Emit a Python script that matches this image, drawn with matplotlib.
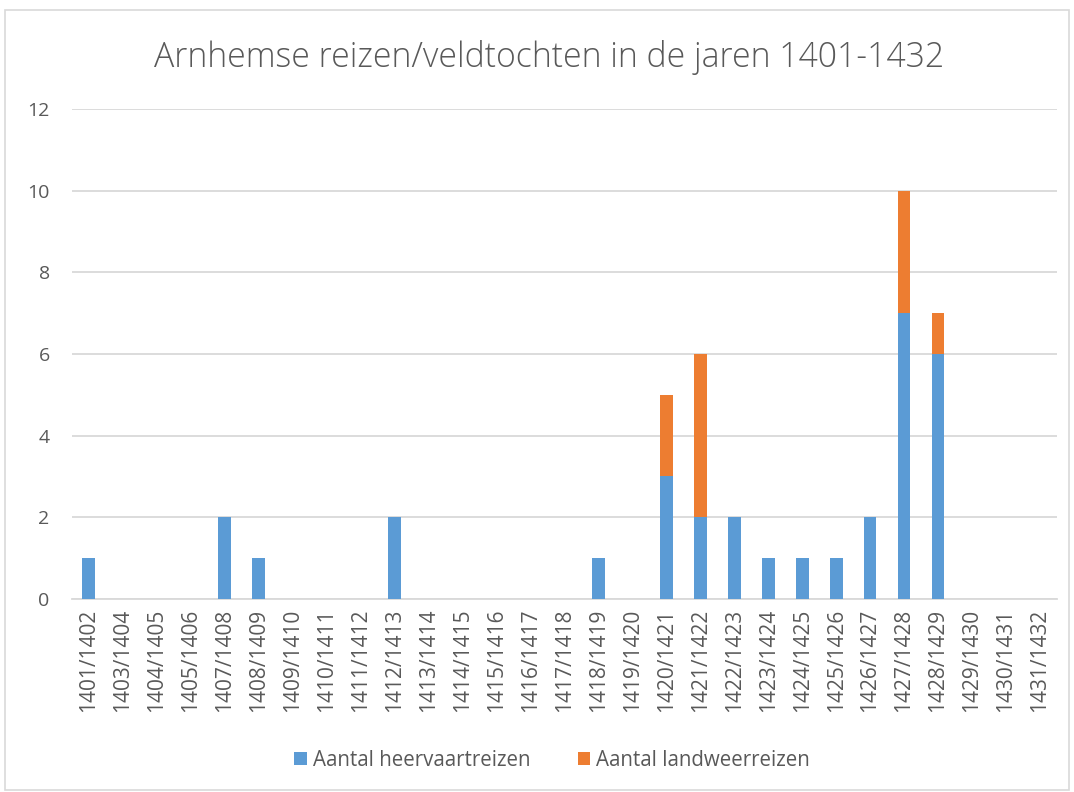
import matplotlib
matplotlib.use("Agg")
import matplotlib.pyplot as plt
from matplotlib.patches import Rectangle
import numpy as np

categories = ["1401/1402", "1403/1404", "1404/1405", "1405/1406", "1407/1408", "1408/1409",
              "1409/1410", "1410/1411", "1411/1412", "1412/1413", "1413/1414", "1414/1415",
              "1415/1416", "1416/1417", "1417/1418", "1418/1419", "1419/1420", "1420/1421",
              "1421/1422", "1422/1423", "1423/1424", "1424/1425", "1425/1426", "1426/1427",
              "1427/1428", "1428/1429", "1429/1430", "1430/1431", "1431/1432"]
heervaart = [1, 0, 0, 0, 2, 1, 0, 0, 0, 2, 0, 0, 0, 0, 0, 1, 0, 3, 2, 2, 1, 1, 1, 2, 7, 6, 0, 0, 0]
landweer = [0, 0, 0, 0, 0, 0, 0, 0, 0, 0, 0, 0, 0, 0, 0, 0, 0, 2, 4, 0, 0, 0, 0, 0, 3, 1, 0, 0, 0]
yticks = [0, 2, 4, 6, 8, 10, 12]

plt.rcParams['font.family'] = ['Open Sans', 'DejaVu Sans']
text_color = "#595959"
blue = "#5b9bd5"
orange = "#ed7d31"

fig = plt.figure(figsize=(10.74, 7.92), dpi=100)
ax = fig.add_axes([0.067, 0.2437, 0.917, 0.6187])

x = np.arange(len(categories))
ax.bar(x, heervaart, width=0.38, color=blue, label="Aantal heervaartreizen", zorder=3)
ax.bar(x, landweer, width=0.38, bottom=heervaart, color=orange, label="Aantal landweerreizen", zorder=3)

ax.set_xlim(-0.5, len(categories) - 0.5)
ax.set_ylim(0, 12)
ax.set_yticks(yticks)
ax.set_xticks(x)
ax.set_xticklabels(categories, rotation=90, fontsize=15, color=text_color)
ax.tick_params(axis='y', labelsize=14, labelcolor=text_color, length=0, pad=16)
ax.tick_params(axis='x', length=0, pad=7)
ax.grid(axis='y', color="#d9d9d9", linewidth=1.3, zorder=0)
for s in ["top", "right", "left"]:
    ax.spines[s].set_visible(False)
ax.spines["bottom"].set_color("#d9d9d9")
ax.spines["bottom"].set_linewidth(1.3)

fig.text(0.511, 0.928, "Arnhemse reizen/veldtochten in de jaren 1401-1432", ha="center", va="center",
         fontsize=24.3, color=text_color, fontweight="light")

leg = fig.legend(loc="center", bbox_to_anchor=(0.514, 0.04), ncol=2, frameon=False,
                 fontsize=14.8, handlelength=0.6, handleheight=0.6, columnspacing=2.3,
                 handletextpad=0.3)
for t in leg.get_texts():
    t.set_color(text_color)

fig.patches.append(Rectangle((5 / 1074, 2 / 792), 1064 / 1074, 780 / 792, transform=fig.transFigure,
                             fill=False, edgecolor="#d9d9d9", linewidth=1.2))

fig.savefig("out.png", dpi=100)
